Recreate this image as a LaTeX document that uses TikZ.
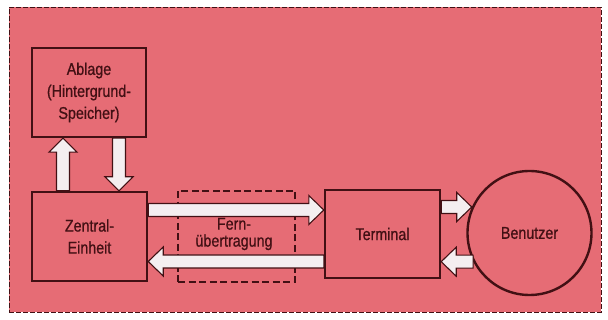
\documentclass[tikz,border=0pt]{standalone}
\usepackage{fontspec}
\setmainfont{Liberation Sans}[FakeStretch=0.84, FakeBold=0.8]
\usetikzlibrary{calc}
\definecolor{bgpink}{RGB}{230,108,117}
\definecolor{ink}{RGB}{66,16,20}
\definecolor{arrowfill}{RGB}{244,238,240}
\tikzset{
  box/.style={draw=ink, line width=2.4pt, minimum width=#1, fill=none, text=ink, align=center, inner sep=0pt},
  fernbox/.style={draw=ink, dash pattern=on 7pt off 3.5pt, line width=1.1pt, text=ink, align=center, inner sep=0pt},
  blockarrow/.style={draw=ink, line width=1.1pt, fill=arrowfill, line join=miter},
  lbl/.style={font=\fontsize{17}{#1}\selectfont}
}
% horizontal block arrow: #1 start, #2 end, #3 vertical offset from start (pt, upward)
\newcommand{\harrow}[3]{%
  \draw[blockarrow] let \p1=(#1), \p2=(#2), \n1={sign(\x2-\x1)} in
   (\x1,\y1+#3+6.5pt) -- (\x2-\n1*15pt,\y1+#3+6.5pt) -- (\x2-\n1*15pt,\y1+#3+14.5pt) -- (\x2,\y1+#3)
   -- (\x2-\n1*15pt,\y1+#3-14.5pt) -- (\x2-\n1*15pt,\y1+#3-6.5pt) -- (\x1,\y1+#3-6.5pt) -- cycle;}
% vertical block arrow: #1 start, #2 end, #3 horizontal offset from start (pt)
\newcommand{\varrow}[3]{%
  \draw[blockarrow] let \p1=(#1), \p2=(#2), \n1={sign(\y2-\y1)} in
   (\x1+#3+6.5pt,\y1) -- (\x1+#3+6.5pt,\y2-\n1*14pt) -- (\x1+#3+14pt,\y2-\n1*14pt) -- (\x1+#3,\y2)
   -- (\x1+#3-14pt,\y2-\n1*14pt) -- (\x1+#3-6.5pt,\y2-\n1*14pt) -- (\x1+#3-6.5pt,\y1) -- cycle;}
\begin{document}
\begin{tikzpicture}[x=1pt,y=-1pt]
\useasboundingbox (0,0) rectangle (608,320);
\fill[white] (0,0) rectangle (608,320);
\node[draw=ink, dash pattern=on 5pt off 2pt, line width=0.9pt, fill=bgpink, minimum width=592pt, minimum height=305pt, inner sep=0pt] (bg) at (305,159.5) {};
% Fern dashed box (drawn first so arrows pass over it)
\node[fernbox, minimum width=117pt, minimum height=91pt] (F) at (236.5,236.5) {};
\node[text=ink, align=center, inner sep=0pt, lbl=17pt] (Ft) at (234,234) {Fern-\\übertragung};
% main boxes
\node[box=114pt, minimum height=89pt, lbl=22pt] (A) at (89,92.5) {Ablage\\(Hintergrund-\\Speicher)};
\node[box=115pt, minimum height=89pt, lbl=22pt] (Z) at (89.5,236.5) {Zentral-\\Einheit};
\node[box=115pt, minimum height=88pt, lbl=20pt] (T) at (382.5,234) {Terminal};
\node[circle, draw=ink, line width=2.4pt, minimum size=124pt, inner sep=0pt, text=ink, lbl=20pt] (B) at (529.5,233) {Benutzer};
% arrows
\varrow{Z.north}{A.south}{-26.5pt}
\varrow{A.south}{Z.north}{30pt}
\harrow{Z.east}{T.west}{26.5pt}
\harrow{T.west}{Z.east}{-27.5pt}
\harrow{T.east}{B.156}{27pt}
\harrow{B.207}{T.east}{0pt}
\end{tikzpicture}
\end{document}
